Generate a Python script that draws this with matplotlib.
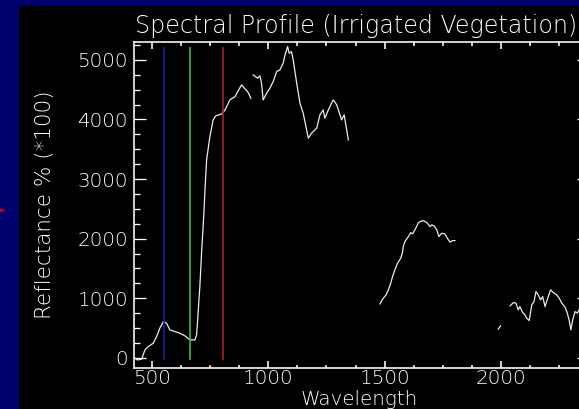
import numpy as np
import matplotlib
matplotlib.use("Agg")
import matplotlib.pyplot as plt
from matplotlib.ticker import MultipleLocator
from matplotlib.patches import Rectangle, Polygon

# ---------------- data ----------------
wl_vnir = [427, 437, 456, 470, 484, 506, 520, 534, 549, 563, 577, 599, 620, 642, 663,
           685, 692, 696, 702, 706, 714, 723, 728, 735, 742, 749, 763, 774, 800, 814,
           835, 857, 885, 914, 925]
refl_vnir = [-5, -34, -22, 134, 190, 247, 357, 498, 609, 582, 470, 441, 414, 369, 302,
             302, 386, 609, 973, 1196, 1812, 2399, 2819, 3322, 3518, 3713, 3993, 4060,
             4094, 4161, 4329, 4384, 4581, 4451, 4357]

wl_nir = [935, 954, 964, 971, 978, 993, 1007, 1021, 1036, 1050, 1064, 1072, 1083, 1090,
          1100, 1107, 1122, 1136, 1150, 1172, 1186, 1208, 1222, 1236, 1243, 1258, 1279,
          1294, 1315, 1326, 1344]
refl_nir = [4748, 4693, 4732, 4609, 4329, 4441, 4525, 4636, 4804, 4832, 4945, 5084, 5223,
            5112, 5139, 5000, 4609, 4273, 4106, 3686, 3770, 3854, 4077, 4161, 4022, 4161,
            4329, 4245, 3993, 4077, 3658]

wl_swir1 = [1480, 1491, 1506, 1516, 1526, 1534, 1544, 1554, 1569, 1576, 1580, 1587, 1602,
            1612, 1620, 1630, 1644, 1652, 1666, 1681, 1695, 1702, 1712, 1724, 1733, 1745,
            1759, 1769, 1781, 1792, 1802]
refl_swir1 = [906, 985, 1057, 1141, 1253, 1364, 1477, 1577, 1673, 1757, 1868, 1951, 2035,
              2102, 2080, 2148, 2260, 2287, 2304, 2270, 2203, 2232, 2215, 2148, 2035, 2092,
              2080, 2008, 1941, 1968, 1968]

wl_dot = [1988, 1998]
refl_dot = [481, 537]

wl_swir2 = [2039, 2053, 2064, 2074, 2081, 2093, 2103, 2110, 2121, 2132, 2142, 2150, 2160,
            2170, 2179, 2189, 2203, 2213, 2225, 2239, 2250, 2261, 2275, 2285, 2294, 2300,
            2308, 2318, 2328, 2335]
refl_swir2 = [872, 928, 918, 805, 861, 760, 721, 666, 626, 889, 945, 1112, 1057, 973, 1029,
              861, 1029, 1141, 1096, 1057, 1002, 918, 851, 750, 609, 470, 638, 777, 750, 805]

band_wl = [553, 663, 805]
band_colors = ["#1a1aa6", "#3cc03c", "#b01e1e"]

title = "Spectral Profile (Irrigated Vegetation)"
xlabel = "Wavelength"
ylabel = "Reflectance % (*100)"
x_range = (423, 2378)
y_range = (-170, 5300)

# ---------------- figure ----------------
plt.rcParams["font.family"] = ["DejaVu Sans"]
plt.rcParams["font.weight"] = "light"

W, H = 579, 409
DPI = 72
fig = plt.figure(figsize=(W / DPI, H / DPI), dpi=DPI)
fig.patch.set_facecolor("#00006e")
fig.patches.append(Rectangle((19 / W, 0), 1, (H - 6) / H, transform=fig.transFigure,
                             facecolor="black", edgecolor="none", zorder=-10))
fig.patches.append(Polygon([(0, 1 - 208.5 / H), (6 / W, 1 - 210.3 / H), (0, 1 - 212.2 / H)],
                           closed=True, transform=fig.transFigure,
                           facecolor="#e00000", edgecolor="none", zorder=-9))

L, R, T, B = 134, 589, 42, 368
ax = fig.add_axes([L / W, (H - B) / H, (R - L) / W, (B - T) / H])
ax.set_zorder(5)
ax.set_facecolor("black")

line_kw = dict(color="#ececec", lw=1.25)
for xs, ys in [(wl_vnir, refl_vnir), (wl_nir, refl_nir), (wl_swir1, refl_swir1),
               (wl_dot, refl_dot), (wl_swir2, refl_swir2)]:
    ax.plot(xs, ys, **line_kw)

all_refl = refl_vnir + refl_nir + refl_swir1 + refl_dot + refl_swir2
ax.vlines(band_wl, min(all_refl), max(all_refl), colors=band_colors, lw=1.6)

ax.set_xlim(*x_range)
ax.set_ylim(*y_range)

for s in ax.spines.values():
    s.set_color("white")
    s.set_linewidth(1.6)

ax.xaxis.set_major_locator(MultipleLocator(500))
ax.xaxis.set_minor_locator(MultipleLocator(125))
ax.yaxis.set_major_locator(MultipleLocator(1000))
ax.yaxis.set_minor_locator(MultipleLocator(250))

FS = 20
ax.tick_params(axis="both", which="both", direction="in", colors="white",
               top=True, right=True, labelsize=FS)
ax.tick_params(axis="x", which="major", length=7, width=1.6, pad=1)
ax.tick_params(axis="x", which="minor", length=3.5, width=1.6)
ax.tick_params(axis="y", which="major", length=12, width=1.3, pad=6)
ax.tick_params(axis="y", which="minor", length=6, width=1.3)
for lab in ax.get_xticklabels() + ax.get_yticklabels():
    lab.set_color("white")
    lab.set_fontweight("light")

# ---------------- texts ----------------
t_title = fig.text(356 / W, 1 - 33 / H, title, color="white", ha="center",
                   va="baseline", fontsize=FS, fontweight="light")
t_xl = fig.text(359 / W, 1 - 405 / H, xlabel, color="white", ha="center",
                va="baseline", fontsize=19, fontweight="light")
t_yl = fig.text(45.5 / W, 1 - 205 / H, ylabel, color="white", ha="center",
                va="center", rotation=90, fontsize=18, fontweight="light")

fig.canvas.draw()
renderer = fig.canvas.get_renderer()


def fit(t, target, horizontal=True):
    bb = t.get_window_extent(renderer)
    size = bb.width if horizontal else bb.height
    t.set_fontsize(t.get_fontsize() * target / size)


fit(t_title, 442)
fit(t_xl, 117)
fit(t_yl, 228, horizontal=False)

fig.savefig("out.png", dpi=DPI, facecolor=fig.get_facecolor())
